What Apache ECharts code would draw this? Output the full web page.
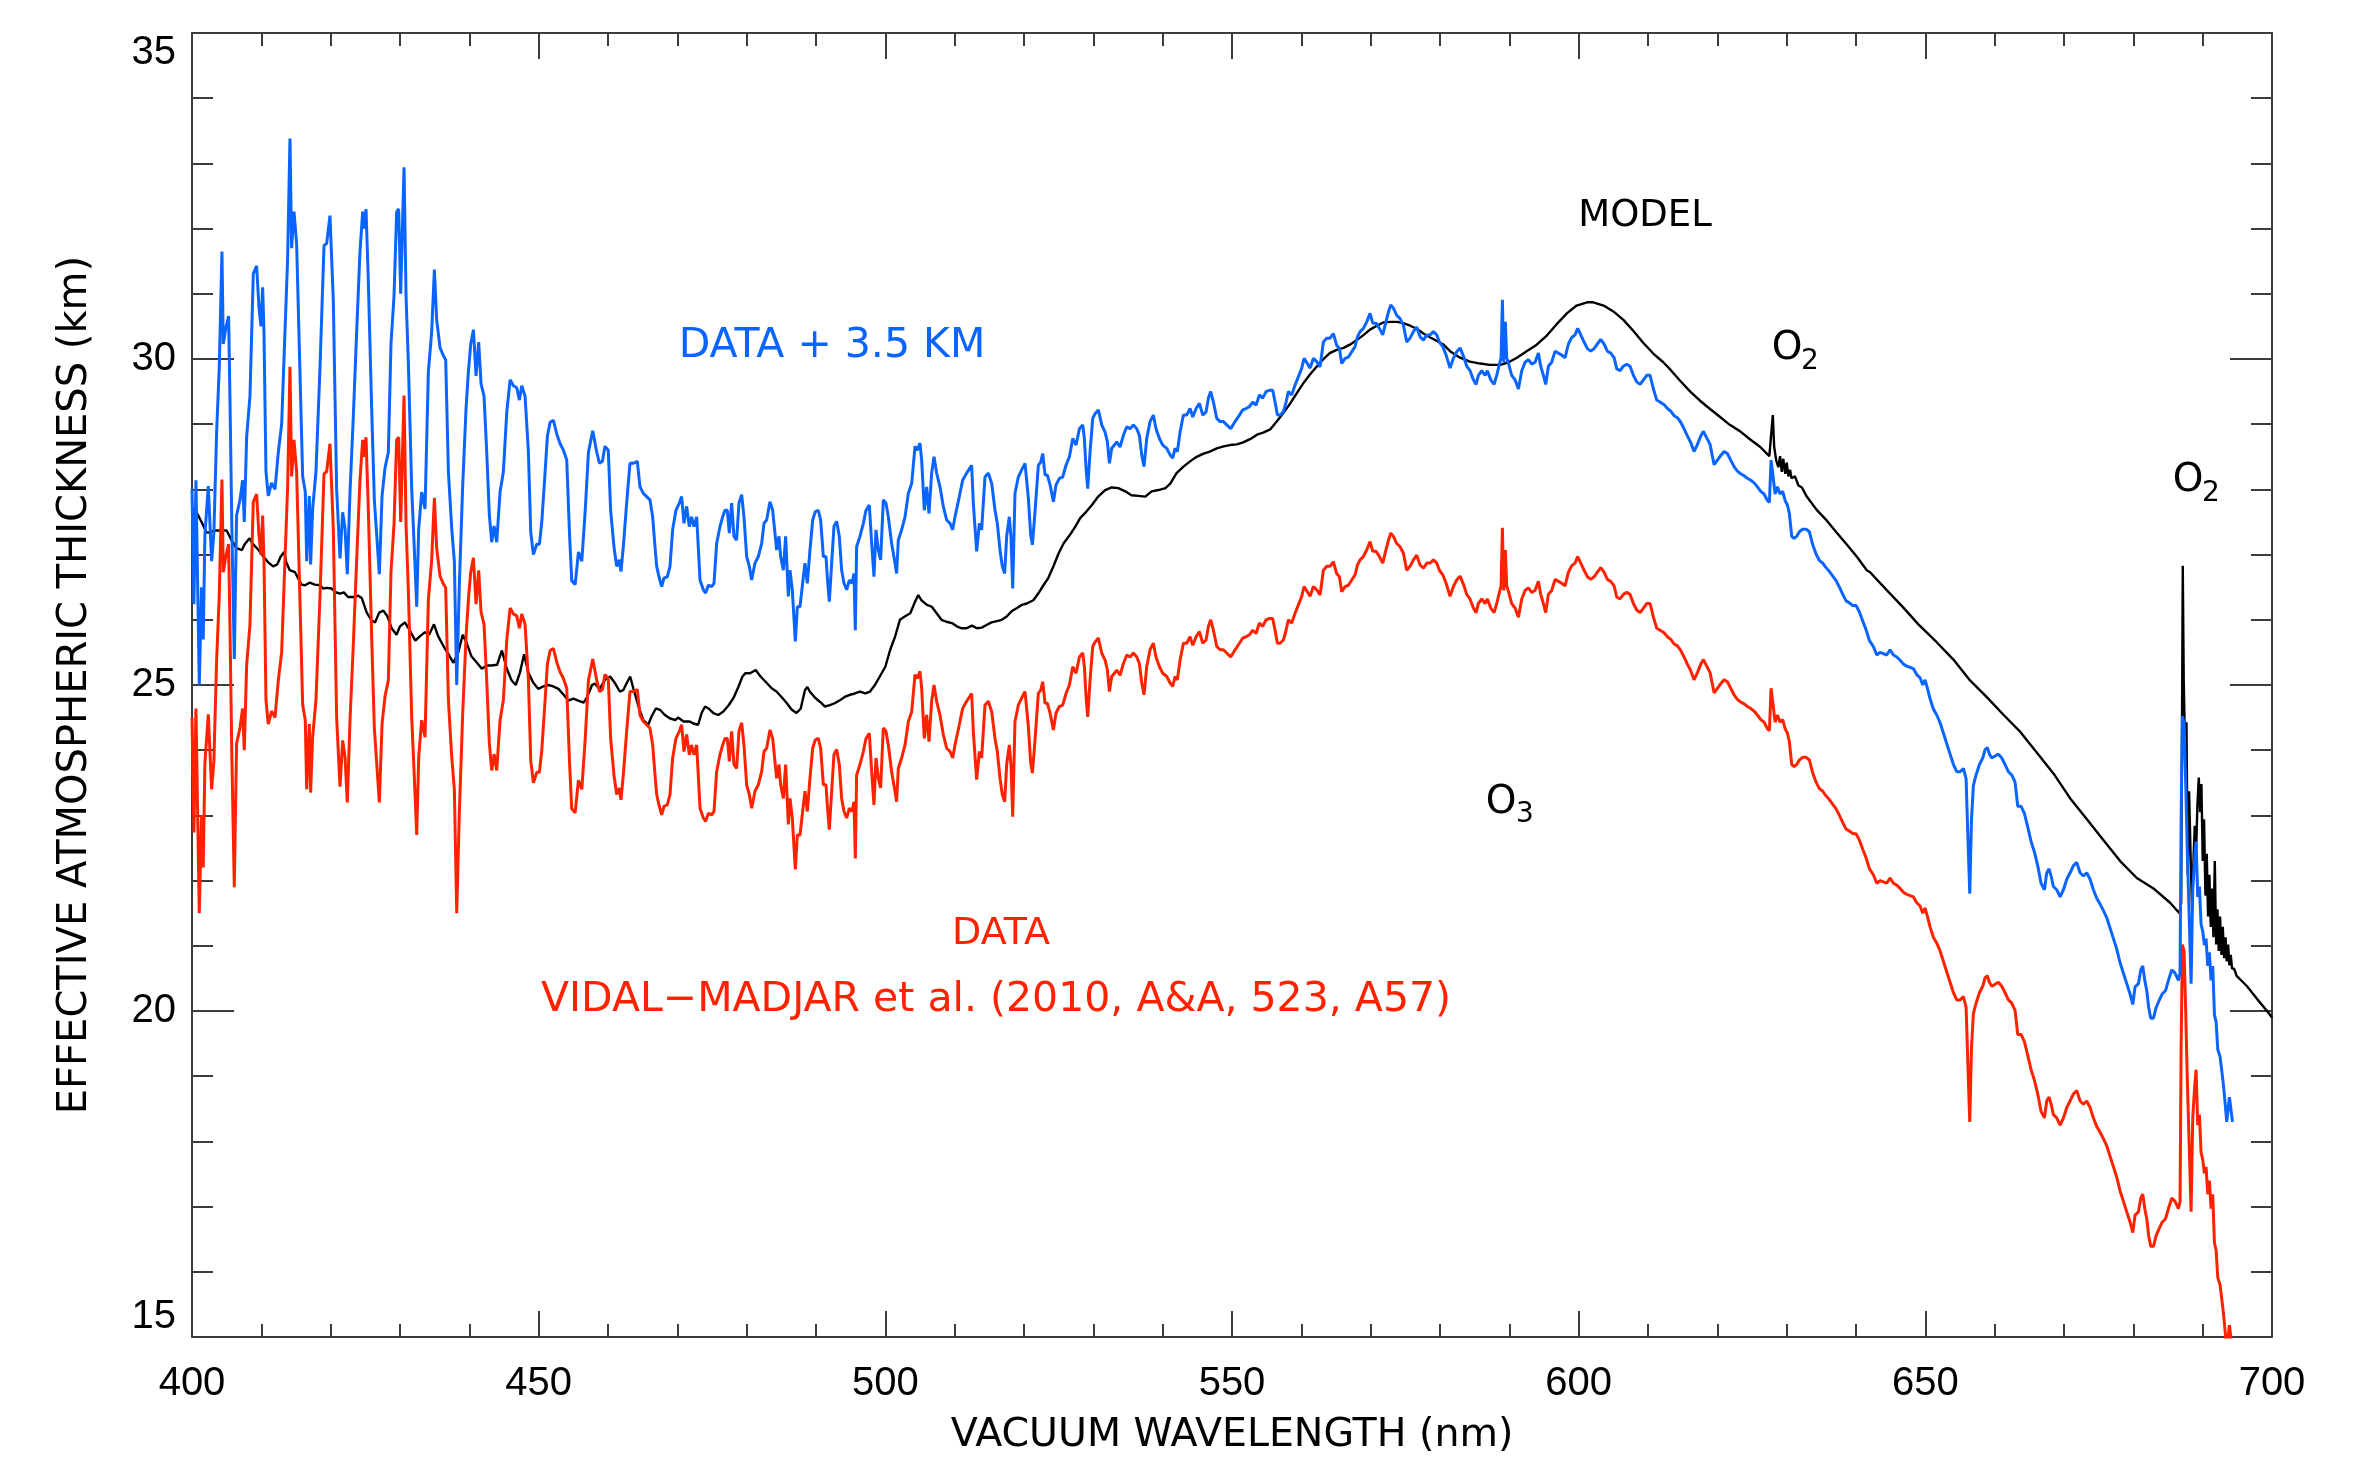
<!DOCTYPE html>
<html>
<head>
<meta charset="utf-8">
<script src="https://cdn.jsdelivr.net/npm/echarts@6/dist/echarts.min.js"></script>
<style>
html,body{margin:0;padding:0;background:#fff;}
#chart{width:2372px;height:1464px;}
</style>
</head>
<body>
<div id="chart"></div>
<script>
// ---------------- DATA ----------------
const xTickValues = [400, 450, 500, 550, 600, 650, 700];
const yTickValues = [15, 20, 25, 30, 35];
// offset applied to the data in the upper curve ("DATA + 3.5 KM")
const DATA_OFFSET_KM = 3.5;

// measured effective atmospheric thickness (km) vs vacuum wavelength (nm)
const dataKm = [
[400.0,24.5],[400.28,22.74],[400.57,24.64],[401.05,21.5],[401.38,23.0],[401.62,22.2],[401.86,23.8],[402.35,24.55],[402.83,23.4],[403.16,23.84],[403.55,25.38],[403.93,26.36],[404.32,28.15],[404.51,26.73],[404.89,26.98],[405.28,27.16],[405.47,25.93],[405.76,23.84],[406.1,21.9],[406.43,24.1],[406.92,24.34],[407.3,24.64],[407.54,24.0],[407.88,25.3],[408.36,25.93],[408.84,27.81],[409.32,27.93],[409.66,27.29],[409.95,27.0],[410.19,27.6],[410.38,26.92],[410.67,24.77],[411.0,24.4],[411.48,24.6],[411.97,24.5],[412.45,25.07],[412.93,25.5],[413.41,26.92],[413.79,28.03],[414.13,29.88],[414.37,28.2],[414.71,28.76],[415.09,28.27],[415.48,26.67],[415.96,24.7],[416.34,24.46],[416.54,23.4],[416.92,24.4],[417.11,23.35],[417.4,24.2],[417.88,24.77],[418.46,26.36],[419.04,28.24],[419.42,28.27],[419.9,28.7],[420.38,27.4],[420.86,24.5],[421.35,23.44],[421.73,24.15],[422.07,23.9],[422.4,23.2],[422.79,24.46],[423.27,25.63],[423.75,26.92],[424.23,28.15],[424.62,28.76],[424.81,28.5],[425.1,28.8],[425.43,27.7],[425.91,25.75],[426.3,24.34],[426.64,23.8],[427.02,23.2],[427.41,24.4],[427.84,24.83],[428.32,25.07],[428.7,26.73],[429.14,27.47],[429.52,28.76],[429.81,28.8],[430.1,27.5],[430.58,29.44],[430.87,27.47],[431.21,26.43],[431.69,24.5],[432.02,23.7],[432.41,22.7],[432.7,23.9],[433.13,24.46],[433.61,24.2],[434.09,26.3],[434.57,26.92],[434.96,27.87],[435.29,27.1],[435.78,26.67],[436.26,26.55],[436.59,26.49],[436.98,24.77],[437.46,23.9],[437.84,23.4],[438.18,21.5],[438.56,23.04],[439.05,24.58],[439.53,25.75],[439.86,26.3],[440.2,26.73],[440.59,26.95],[440.97,26.24],[441.35,26.76],[441.69,26.12],[442.12,25.93],[442.51,25.07],[442.89,24.1],[443.23,23.69],[443.57,23.94],[443.95,23.69],[444.43,24.46],[444.91,24.77],[445.4,25.69],[445.88,26.18],[446.36,26.09],[446.84,26.06],[447.22,25.87],[447.56,26.09],[448.04,25.93],[448.52,25.07],[448.86,23.84],[449.24,23.5],[449.72,23.66],[450.11,23.66],[450.45,24.0],[450.93,24.77],[451.26,25.32],[451.65,25.53],[452.13,25.56],[452.61,25.35],[453.09,25.2],[453.57,25.1],[454.05,24.95],[454.44,23.84],[454.77,23.1],[455.26,23.04],[455.74,23.54],[456.22,23.4],[456.7,24.15],[457.18,25.07],[457.8,25.4],[458.38,25.07],[458.77,24.9],
[459.2,24.93],[459.56,25.16],[460.04,25.1],[460.38,24.18],[460.86,23.62],[461.25,23.32],[461.63,23.42],[461.87,23.24],[462.21,23.62],[462.69,24.29],[463.17,24.9],[463.65,24.9],[464.23,24.93],[464.61,24.54],[465.09,24.44],[465.57,24.39],[466.05,24.34],[466.44,24.08],[466.78,23.62],[467.02,23.32],[467.35,23.16],[467.74,23.01],[468.07,23.14],[468.55,23.16],[468.94,23.32],[469.32,23.88],[469.8,24.18],[470.29,24.29],[470.62,24.39],[470.96,23.98],[471.34,24.24],[471.73,23.93],[472.06,24.08],[472.4,23.93],[472.79,24.08],[473.27,23.11],[473.75,22.96],[474.08,22.91],[474.47,23.03],[474.95,23.01],[475.29,23.06],[475.67,23.67],[476.15,23.93],[476.54,24.08],[476.87,24.18],[477.21,24.18],[477.5,23.83],[477.83,24.29],[478.17,23.78],[478.55,23.72],[478.89,24.29],[479.28,24.42],[479.61,24.08],[480.0,23.47],[480.38,23.32],[480.72,23.11],[481.2,23.37],[481.68,23.47],[482.16,23.67],[482.5,23.98],[482.88,24.03],[483.36,24.31],[483.75,24.18],[484.08,23.83],[484.32,23.57],[484.66,23.78],[484.9,23.47],[485.29,23.26],[485.62,23.78],[486.01,22.86],[486.25,23.26],[486.58,22.96],[487.02,22.17],[487.31,22.7],[487.69,22.7],[488.07,23.06],[488.41,23.37],[488.75,23.06],[489.13,23.57],[489.52,24.03],[489.9,24.16],[490.33,24.18],[490.67,24.03],[491.06,23.47],[491.44,23.47],[491.63,23.16],[491.92,22.78],[492.26,23.37],[492.59,23.93],[492.98,24.01],[493.36,23.78],[493.7,23.26],[494.04,23.06],[494.42,22.96],[494.81,23.11],[495.19,23.06],[495.48,23.21],[495.67,22.34],[495.86,23.62],[496.34,23.78],[496.83,23.98],[497.21,24.18],[497.69,24.26],[498.03,23.67],[498.36,23.16],[498.65,23.88],[498.99,23.57],[499.32,23.42],[499.71,24.34],[500.09,24.29],[500.43,24.08],[500.91,23.67],[501.39,23.37],[501.63,23.21],[501.87,23.72],[502.35,23.88],[502.84,24.08],[503.32,24.44],[503.8,24.59],[504.28,25.16],[504.62,25.1],[505.0,25.21],[505.24,24.95],[505.62,24.18],[505.96,24.54],[506.3,24.13],[506.68,24.75],[507.02,25.0],[507.4,24.75],[507.88,24.54],[508.36,24.24],[508.85,24.03],[509.33,23.98],[509.71,23.88],[510.05,24.08],[510.67,24.39],[511.15,24.64],[511.73,24.75],[512.45,24.87],[512.69,24.29],[513.17,23.55],[513.56,23.98],[513.89,23.88],[514.37,24.69],[514.86,24.75],[515.34,24.59],[515.82,24.18],[516.15,23.98],[516.54,23.57],[516.87,23.32],[517.21,23.21],[517.5,23.78],[517.88,24.08],[518.12,23.78],[518.37,22.98],[518.7,24.44],[519.18,24.69],[519.66,24.8],[520.15,24.9],
[520.63,24.36],[520.97,23.8],[521.21,23.65],[521.59,24.16],[522.07,24.87],[522.41,24.92],[522.7,25.05],[523.04,24.72],[523.37,24.72],[523.76,24.57],[524.24,24.31],[524.62,24.57],[525.1,24.67],[525.58,24.69],[526.06,24.87],[526.55,25.0],[527.03,25.28],[527.51,25.18],[527.99,25.43],[528.47,25.49],[528.71,25.28],[528.95,24.82],[529.19,24.51],[529.53,25.08],[529.91,25.59],[530.25,25.66],[530.73,25.72],[531.21,25.49],[531.69,25.38],[532.03,25.23],[532.32,24.9],[532.65,25.13],[533.04,25.18],[533.37,25.23],[533.85,25.15],[534.34,25.33],[534.82,25.46],[535.3,25.43],[535.78,25.49],[536.26,25.43],[536.64,25.33],[536.98,25.03],[537.31,24.85],[537.7,25.28],[538.18,25.54],[538.66,25.64],[539.04,25.43],[539.53,25.28],[540.01,25.18],[540.59,25.13],[541.07,25.03],[541.45,24.98],[541.79,25.13],[542.12,25.08],[542.51,25.38],[542.99,25.64],[543.47,25.64],[543.95,25.74],[544.34,25.61],[544.82,25.74],[545.3,25.82],[545.78,25.64],[546.26,25.69],[546.6,25.9],[546.93,26.0],[547.32,25.84],[547.8,25.59],[548.28,25.54],[548.76,25.54],[549.24,25.49],[549.82,25.43],[550.44,25.54],[551.07,25.64],[551.55,25.72],[552.03,25.74],[552.51,25.77],[552.99,25.84],[553.47,25.79],[553.95,25.95],[554.43,25.9],[554.91,26.0],[555.39,26.02],[555.87,26.02],[556.21,25.84],[556.55,25.64],[556.93,25.64],[557.41,25.69],[557.8,25.84],[558.13,26.0],[558.61,25.95],[559.1,26.1],[559.58,26.23],[560.06,26.36],[560.39,26.51],[560.87,26.43],[561.26,26.36],[561.74,26.51],[562.22,26.46],[562.7,26.38],[563.18,26.76],[563.66,26.82],[564.14,26.82],[564.62,26.89],[565.1,26.71],[565.49,26.66],[565.83,26.43],[566.31,26.51],[566.79,26.53],[567.27,26.61],[567.75,26.69],[568.09,26.84],[568.47,26.92],[568.95,26.97],[569.43,27.07],[569.91,27.2],[570.3,27.05],[570.78,27.05],[571.26,26.97],[571.74,26.87],[572.08,27.02],[572.56,27.22],[572.9,27.33],[573.28,27.28],[573.76,27.17],[574.24,27.12],[574.72,27.02],[575.2,26.76],[575.68,26.82],[576.16,26.92],[576.64,26.99],[577.13,26.84],[577.61,26.79],[578.09,26.87],[578.57,26.87],[579.05,26.92],[579.53,26.87],[579.91,26.76],[580.4,26.69],[580.88,26.56],[581.45,26.36],[581.93,26.51],[582.41,26.61],[582.9,26.67],
[583.47,26.52],[583.85,26.39],[584.33,26.32],[584.82,26.18],[585.2,26.11],[585.54,26.25],[586.02,26.32],[586.5,26.25],[586.83,26.32],[587.32,26.18],[587.8,26.11],[588.18,26.25],[588.57,26.42],[588.81,26.52],[589.0,27.41],[589.19,26.45],[589.43,27.07],[589.62,26.52],[589.91,26.42],[590.34,26.25],[590.83,26.18],[591.31,26.04],[591.79,26.32],[592.27,26.45],[592.75,26.49],[593.23,26.42],[593.71,26.45],[594.19,26.59],[594.53,26.39],[594.91,26.25],[595.25,26.11],[595.63,26.39],[596.11,26.45],[596.6,26.62],[597.08,26.59],[597.56,26.56],[598.04,26.52],[598.52,26.73],[599.0,26.83],[599.48,26.87],[599.86,26.97],[600.3,26.87],[600.78,26.76],[601.26,26.66],[601.74,26.62],[602.22,26.66],[602.7,26.73],[603.18,26.8],[603.66,26.73],[604.14,26.62],[604.62,26.59],[605.11,26.52],[605.49,26.35],[605.97,26.32],[606.45,26.39],[606.93,26.42],[607.41,26.39],[607.89,26.25],[608.37,26.15],[608.86,26.11],[609.34,26.18],[609.82,26.25],[610.3,26.25],[610.78,26.04],[611.26,25.87],[611.74,25.84],[612.32,25.8],[612.8,25.74],[613.28,25.7],[613.76,25.63],[614.24,25.6],[614.72,25.53],[615.2,25.43],[615.68,25.32],[616.16,25.22],[616.64,25.08],[617.13,25.19],[617.61,25.32],[617.99,25.39],[618.47,25.29],[618.95,25.19],[619.53,24.88],[620.01,24.95],[620.49,25.02],[620.97,25.08],[621.45,25.05],[621.93,24.95],[622.41,24.85],[622.89,24.78],[623.37,24.74],[623.86,24.71],[624.34,24.67],[624.82,24.64],[625.3,24.6],[625.78,24.54],[626.26,24.47],[626.74,24.43],[627.22,24.33],[627.51,24.3],[627.75,24.95],[627.99,24.74],[628.33,24.43],[628.67,24.54],[629.05,24.43],[629.43,24.47],[629.77,24.33],[630.11,24.26],[630.39,24.13],[630.73,23.78],[631.07,23.75],[631.45,23.78],[631.83,23.85],[632.32,23.89],[632.8,23.89],[633.28,23.85],[633.76,23.65],[634.24,23.51],[634.72,23.41],[635.2,23.37],[635.68,23.3],[636.17,23.24],[636.65,23.17],[637.13,23.1],[637.61,23.0],[638.09,22.89],[638.57,22.79],[639.05,22.76],[639.53,22.72],[640.01,22.72],[640.49,22.62],[640.97,22.48],[641.45,22.35],[641.94,22.18],
[642.5,22.09],[643.0,21.96],[643.47,22.0],[643.95,21.98],[644.43,21.96],[644.91,22.04],[645.4,21.96],[645.88,21.93],[646.36,21.88],[646.84,21.82],[647.32,21.79],[647.8,21.77],[648.28,21.75],[648.76,21.66],[649.24,21.61],[649.63,21.5],[649.96,21.58],[650.3,21.45],[650.68,21.29],[651.16,21.13],[651.65,21.04],[652.13,20.92],[652.61,20.76],[653.09,20.6],[653.57,20.44],[654.05,20.28],[654.53,20.17],[655.01,20.17],[655.49,20.22],[655.88,20.06],[656.16,19.1],[656.41,18.3],[656.65,19.42],[656.93,19.96],[657.32,20.12],[657.8,20.28],[658.28,20.38],[658.62,20.51],[658.95,20.54],[659.24,20.44],[659.58,20.38],[660.06,20.41],[660.54,20.44],[661.02,20.38],[661.5,20.28],[661.98,20.17],[662.46,20.12],[662.94,20.01],[663.33,19.64],[663.81,19.64],[664.29,19.53],[664.77,19.32],[665.25,19.1],[665.73,18.94],[666.21,18.73],[666.69,18.46],[667.18,18.36],[667.51,18.62],[667.85,18.68],[668.14,18.57],[668.47,18.41],[668.95,18.36],[669.44,18.25],[669.92,18.36],[670.4,18.52],[670.88,18.62],[671.36,18.73],[671.84,18.78],[672.32,18.62],[672.8,18.57],[673.28,18.62],[673.76,18.52],[674.24,18.36],[674.72,18.23],[675.2,18.14],[675.69,18.04],[676.17,17.93],[676.65,17.77],[677.13,17.61],[677.61,17.45],[678.09,17.24],[678.57,17.08],[679.05,16.92],[679.53,16.76],[679.92,16.6],[680.25,16.87],[680.74,16.92],[681.07,17.13],[681.36,17.19],[681.65,16.97],[681.94,16.81],[682.22,16.55],[682.51,16.39],[682.9,16.39],[683.28,16.55],[683.67,16.65],[684.15,16.76],[684.63,16.81],[685.06,16.97],[685.54,17.13],[686.02,17.08],[686.5,16.97],[686.74,17.08],[686.89,19.42],[687.08,21.02],[687.32,20.92],[687.56,19.96],[687.8,18.89],[688.09,17.83],[688.33,16.92],[688.57,18.36],[688.81,18.78],[689.05,19.1],[689.29,18.25],[689.53,18.41],[689.77,17.83],[690.01,17.72],[690.25,17.51],[690.49,17.61],[690.73,17.19],[690.97,17.4],[691.21,16.97],[691.45,17.19],[691.7,16.44],[691.94,16.33],[692.18,15.91],[692.51,15.8],[692.75,15.59],[692.99,15.37],[693.23,15.1],[693.47,14.8],[693.86,15.18],[694.3,14.8]
];

// atmospheric model (km) vs vacuum wavelength (nm)
const modelKm = [
[400.0,27.71],[400.66,27.65],[401.38,27.5],[402.1,27.34],[402.6,27.34],[403.3,27.37],[403.8,27.37],[404.5,27.37],[405.0,27.37],[405.7,27.22],[406.4,27.1],[407.2,27.07],[407.6,27.16],[408.3,27.25],[408.8,27.16],[409.6,27.07],[410.3,26.97],[411.0,26.88],[411.7,26.82],[412.3,26.85],[412.8,26.97],[413.3,27.04],[413.6,26.88],[414.1,26.76],[414.85,26.73],[415.3,26.64],[415.8,26.54],[416.3,26.53],[417.0,26.57],[417.7,26.54],[418.5,26.53],[418.9,26.48],[419.5,26.49],[420.1,26.48],[420.8,26.42],[421.35,26.4],[421.9,26.42],[422.5,26.35],[423.3,26.35],[424.0,26.37],[424.5,26.33],[425.2,26.11],[425.9,25.99],[426.4,25.96],[427.0,26.11],[427.6,26.14],[428.2,26.05],[428.8,25.87],[429.5,25.77],[430.0,25.9],[430.7,25.96],[431.4,25.84],[432.2,25.68],[432.9,25.75],[433.6,25.81],[434.2,25.77],[434.9,25.93],[435.5,25.75],[436.3,25.59],[437.0,25.47],[437.7,25.34],[438.4,25.5],[439.05,25.77],[439.6,25.65],[440.3,25.44],[441.1,25.34],[441.8,25.25],[442.5,25.3],[443.2,25.3],[444.0,25.31],[444.7,25.53],[445.4,25.25],[446.1,25.07],[446.7,25.0],[447.3,25.19],[447.9,25.47],[448.5,25.19],[449.2,25.04],[449.96,24.94],[450.7,24.98],[451.4,25.0],[452.1,24.98],[452.85,24.94],[453.6,24.85],[454.3,24.76],[455.0,24.79],[455.7,24.76],[456.5,24.73],[457.0,24.82],[457.7,25.0],[458.1,25.02],[458.8,24.94],
[459.56,25.08],[460.3,25.13],[461.0,25.03],[461.7,24.9],[462.2,24.92],[462.7,25.03],[463.2,25.13],[463.65,24.95],[464.4,24.67],[465.1,24.46],[465.8,24.39],[466.3,24.52],[466.9,24.64],[467.5,24.62],[468.2,24.54],[468.9,24.49],[469.7,24.46],[470.1,24.5],[470.9,24.44],[471.8,24.44],[472.3,24.41],[473.0,24.39],[473.5,24.57],[474.0,24.67],[474.5,24.64],[475.2,24.57],[475.9,24.54],[476.6,24.59],[477.4,24.69],[478.1,24.8],[478.8,24.97],[479.4,25.13],[479.8,25.18],[480.5,25.18],[481.3,25.23],[482.0,25.13],[482.9,25.03],[483.6,24.95],[484.3,24.9],[485.0,24.82],[485.8,24.72],[486.5,24.62],[487.2,24.57],[487.8,24.64],[488.4,24.92],[488.75,24.97],[489.1,24.9],[489.9,24.8],[490.6,24.74],[491.3,24.67],[492.0,24.69],[492.7,24.72],[493.5,24.77],[494.2,24.82],[494.9,24.85],[495.6,24.87],[496.35,24.9],[497.1,24.87],[497.8,24.9],[498.5,25.0],[499.2,25.13],[500.0,25.28],[500.7,25.54],[501.4,25.74],[502.1,26.0],[502.8,26.05],[503.6,26.1],[504.3,26.28],[504.76,26.38],[505.2,26.3],[506.0,26.23],[506.7,26.2],[507.4,26.1],[508.1,26.0],[508.8,25.97],[509.6,25.95],[510.3,25.9],[511.0,25.87],[511.7,25.87],[512.5,25.91],[513.2,25.87],[513.9,25.88],[514.6,25.92],[515.3,25.96],[516.1,25.98],[516.8,26.0],[517.5,26.05],[518.2,26.13],[519.0,26.18],[519.7,26.23],
[520.4,26.25],[521.35,26.3],[522.1,26.41],[522.8,26.53],[523.5,26.64],[524.2,26.81],[525.0,27.02],[525.7,27.17],[526.6,27.3],[527.4,27.43],[528.1,27.56],[529.0,27.66],[529.8,27.76],[530.7,27.89],[531.7,27.99],[532.65,28.03],[533.6,28.02],[534.6,27.97],[535.5,27.91],[536.5,27.9],[537.5,27.89],[538.4,27.97],[539.4,27.99],[540.4,28.02],[541.1,28.09],[542.0,28.25],[543.0,28.35],[543.95,28.43],[544.9,28.5],[545.9,28.55],[546.8,28.58],[547.8,28.63],[548.8,28.66],[549.7,28.68],[550.7,28.69],[551.6,28.72],[552.6,28.77],[553.6,28.84],[554.5,28.87],[555.5,28.92],[556.45,29.04],[557.4,29.17],[558.4,29.32],[559.3,29.47],[560.3,29.63],[561.3,29.77],[562.2,29.88],[563.2,30.0],[564.1,30.09],[565.1,30.14],[566.1,30.17],[567.0,30.22],[568.0,30.29],[569.0,30.37],[569.9,30.45],[570.9,30.51],[571.8,30.56],[572.8,30.57],[573.8,30.57],[574.7,30.55],[575.7,30.51],[576.7,30.46],[577.6,30.39],[578.6,30.33],[579.5,30.28],[580.5,30.22],
[581.45,30.12],[582.9,30.02],[584.3,29.96],[585.8,29.93],[587.2,29.91],[588.7,29.91],[589.9,29.95],[591.1,30.02],[592.5,30.12],[593.95,30.22],[595.4,30.36],[596.8,30.53],[598.3,30.7],[599.7,30.82],[601.2,30.87],[602.1,30.87],[603.6,30.82],[605.0,30.73],[606.45,30.6],[607.9,30.43],[609.3,30.25],[610.8,30.08],[612.2,29.95],[613.2,29.84],[614.6,29.67],[616.1,29.5],[617.5,29.36],[619.0,29.23],[620.4,29.11],[621.8,28.99],[623.3,28.89],[624.7,28.77],[626.2,28.65],[627.5,28.51],[627.75,28.54],[628.0,29.14],[628.2,28.65],[628.5,28.44],[628.8,28.34],[629.05,28.51],[629.3,28.27],[629.5,28.47],[629.8,28.24],[630.0,28.41],[630.25,28.2],[630.5,28.3],[630.7,28.17],[631.2,28.2],[631.7,28.06],[632.2,28.03],[632.9,27.89],[634.3,27.69],[635.8,27.52],[637.2,27.34],[638.7,27.15],[640.1,26.97],[641.55,26.76],
[642.03,26.73],[644.4,26.46],[646.8,26.19],[649.0,25.93],[651.6,25.66],[654.05,25.39],[656.45,25.07],[658.9,24.81],[661.3,24.54],[663.7,24.28],[666.1,23.96],[668.5,23.64],[670.9,23.26],[673.3,22.94],[675.7,22.62],[678.1,22.3],[680.5,22.04],[682.9,21.88],[685.3,21.66],[686.65,21.5],[686.9,21.66],[687.13,26.83],[687.27,25.07],[687.47,24.01],[687.66,24.43],[687.85,22.09],[688.04,23.37],[688.28,22.3],[688.47,21.56],[688.67,22.3],[688.86,22.84],[689.05,22.41],[689.24,23.16],[689.44,23.58],[689.63,23.05],[689.82,23.48],[690.01,22.3],[690.2,22.94],[690.4,21.77],[690.59,22.41],[690.78,21.45],[690.97,22.09],[691.17,21.29],[691.36,21.88],[691.55,21.13],[691.75,22.3],[691.94,21.02],[692.13,21.56],[692.32,20.92],[692.51,21.45],[692.71,20.86],[692.9,21.29],[693.1,20.81],[693.3,21.13],[693.47,20.76],[693.67,21.02],[693.86,20.7],[694.05,20.86],[694.24,20.65],[694.53,20.65],[694.9,20.54],[696.4,20.38],[697.8,20.19],[699.2,20.01],[700.0,19.9]
];

// ---------------- CHART ----------------
const TICK_FONT = '"Liberation Sans", Arial, sans-serif';
const TEXT_FONT = '"DejaVu Sans", "Liberation Sans", sans-serif';
const AXIS_COLOR = '#3c3c3c';
const BLUE = '#0a64ff';
const RED = '#ff2200';

const shiftedData = dataKm.map(p => [p[0], Math.round((p[1] + DATA_OFFSET_KM) * 100) / 100]);

const chart = echarts.init(document.getElementById('chart'), null, {renderer: 'canvas'});

function xAxisDef(pos, showLabels) {
  return {
    type: 'value', position: pos, min: xTickValues[0], max: xTickValues[xTickValues.length - 1], interval: 50,
    axisLine: {show: true, onZero: false, lineStyle: {color: AXIS_COLOR, width: 2}},
    axisTick: {show: true, inside: true, length: 26, lineStyle: {color: AXIS_COLOR, width: 2}},
    minorTick: {show: true, splitNumber: 5, length: 13, lineStyle: {color: AXIS_COLOR, width: 2}},
    splitLine: {show: false}, minorSplitLine: {show: false},
    axisLabel: {show: showLabels, color: '#000', fontSize: 40, fontFamily: TICK_FONT, margin: 27},
    name: showLabels ? 'VACUUM WAVELENGTH (nm)' : '',
    nameLocation: 'middle', nameGap: 79,
    nameTextStyle: {color: '#000', fontSize: 39.5, fontFamily: TEXT_FONT}
  };
}
function yAxisDef(pos, showLabels) {
  return {
    type: 'value', position: pos, min: yTickValues[0], max: yTickValues[yTickValues.length - 1], interval: 5,
    axisLine: {show: true, onZero: false, lineStyle: {color: AXIS_COLOR, width: 2}},
    axisTick: {show: true, inside: true, length: 42, lineStyle: {color: AXIS_COLOR, width: 2}},
    minorTick: {show: true, splitNumber: 5, length: 21, lineStyle: {color: AXIS_COLOR, width: 2}},
    splitLine: {show: false}, minorSplitLine: {show: false},
    axisLabel: {show: showLabels, color: '#000', fontSize: 40, fontFamily: TICK_FONT, margin: 16,
      verticalAlignMinLabel: 'bottom', verticalAlignMaxLabel: 'top'},
    name: showLabels ? 'EFFECTIVE ATMOSPHERIC THICKNESS (km)' : '',
    nameLocation: 'middle', nameGap: 96,
    nameTextStyle: {color: '#000', fontSize: 40, fontFamily: TEXT_FONT}
  };
}

function txt(x, y, text, color, size) {
  return {type: 'text', x: x, y: y, silent: true, z: 100,
    style: {text: text, fill: color, font: size + 'px ' + TEXT_FONT, fontSize: size, fontFamily: TEXT_FONT,
      align: 'center', verticalAlign: 'middle', textAlign: 'center', textVerticalAlign: 'middle'}};
}

const option = {
  animation: false,
  backgroundColor: '#ffffff',
  grid: {left: 192, right: 100, top: 33, bottom: 127, containLabel: false},
  xAxis: [xAxisDef('bottom', true), xAxisDef('top', false)],
  yAxis: [yAxisDef('left', true), yAxisDef('right', false)],
  series: [
    {name: 'MODEL', type: 'line', data: modelKm, xAxisIndex: 0, yAxisIndex: 0, symbol: 'none', showSymbol: false,
      lineStyle: {color: '#000', width: 2.4}, z: 2, clip: true},
    {name: 'DATA', type: 'line', data: dataKm, xAxisIndex: 0, yAxisIndex: 0, symbol: 'none', showSymbol: false,
      lineStyle: {color: RED, width: 3}, z: 3, clip: true},
    {name: 'DATA + 3.5 KM', type: 'line', data: shiftedData, xAxisIndex: 0, yAxisIndex: 0, symbol: 'none', showSymbol: false,
      lineStyle: {color: BLUE, width: 3}, z: 4, clip: true}
  ],
  graphic: [
    txt(1645, 216, 'MODEL', '#000', 37),
    txt(832, 346, 'DATA + 3.5 KM', BLUE, 41),
    txt(1001, 934, 'DATA', RED, 38),
    txt(996, 1000, 'VIDAL\u2212MADJAR et al. (2010, A&A, 523, A57)', RED, 41),
    txt(1787, 349, 'O', '#000', 39), txt(1810, 362, '2', '#000', 28),
    txt(2188, 481, 'O', '#000', 39), txt(2211, 494, '2', '#000', 28),
    txt(1501, 803, 'O', '#000', 39), txt(1525, 815, '3', '#000', 28)
  ]
};
chart.setOption(option);
</script>
</body>
</html>
